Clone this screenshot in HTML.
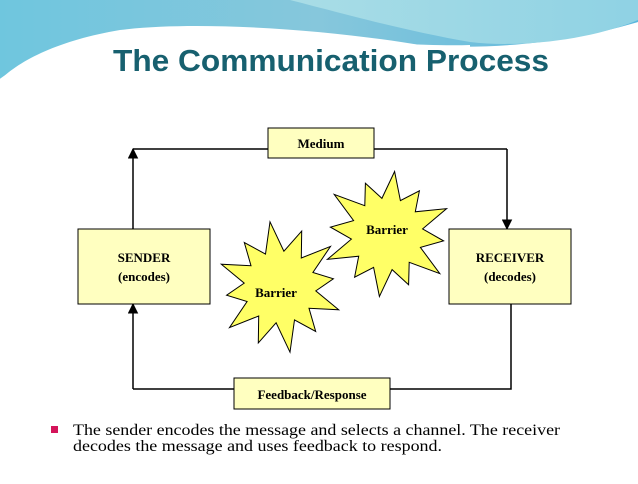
<!DOCTYPE html>
<html><head><meta charset="utf-8"><style>
body{margin:0;width:638px;height:479px;overflow:hidden;background:#fff;font-family:"Liberation Serif",serif}
</style></head><body>
<svg width="638" height="479" viewBox="0 0 638 479" xmlns="http://www.w3.org/2000/svg">
<defs>
<linearGradient id="g1" x1="0" y1="0" x2="1" y2="0"><stop offset="0" stop-color="#6fc6de"/><stop offset="0.5" stop-color="#86c7dc"/><stop offset="1" stop-color="#5ab7dd"/></linearGradient>
<linearGradient id="g2" x1="0" y1="0" x2="1" y2="0"><stop offset="0" stop-color="#a9dde6"/><stop offset="1" stop-color="#8fd2e4"/></linearGradient>
<marker id="ah" viewBox="0 0 10 10" refX="9" refY="5" markerWidth="7" markerHeight="7" orient="auto"><path d="M0,0 L10,5 L0,10 z" fill="#000"/></marker>
</defs>
<path d="M0,0 H638 V22 C560,45 480,50 420,45 C330,30 200,20 120,30 C60,40 20,60 0,80 Z" fill="url(#g1)"/>
<path d="M290,0 H638 V20 C590,40 520,48 470,42 C400,30 330,10 290,0 Z" fill="url(#g2)"/>
<path d="M0,80 C40,50 120,38 250,38 C350,40 420,48 470,46" fill="none" stroke="#fff" stroke-width="2"/>
<text x="113" y="71" textLength="436" lengthAdjust="spacingAndGlyphs" font-family="Liberation Sans,sans-serif" font-weight="bold" font-size="31" fill="#17606f">The Communication Process</text>
<g stroke="#000" stroke-width="1.5" fill="none">
<path d="M133,229 V149" marker-end="url(#ah)"/>
<path d="M133,149 H268 M374,149 H507"/>
<path d="M507,149 V229" marker-end="url(#ah)"/>
<path d="M511,304 V389 H390 M234,389 H133"/>
<path d="M133,389 V304" marker-end="url(#ah)"/>
</g>
<g fill="#ffffc0" stroke="#000" stroke-width="1">
<rect x="268" y="128" width="106" height="30"/>
<rect x="78" y="229" width="132" height="75"/>
<rect x="449" y="229" width="122" height="75"/>
<rect x="234" y="378" width="156" height="31"/>
</g>
<polygon id="s1" fill="#ffff66" stroke="#000" stroke-width="1"/>
<polygon id="s2" fill="#ffff66" stroke="#000" stroke-width="1"/>
<g font-size="13" font-weight="bold" text-anchor="middle" fill="#000">
<text x="321" y="148">Medium</text>
<text x="144" y="262">SENDER</text>
<text x="144" y="281">(encodes)</text>
<text x="510" y="262">RECEIVER</text>
<text x="510" y="281">(decodes)</text>
<text x="312" y="399">Feedback/Response</text>
<text x="387" y="234">Barrier</text>
<text x="276" y="297">Barrier</text>
</g>
<rect x="51" y="426" width="7" height="7" fill="#d4145a"/>
<text x="73" y="435" font-size="16" textLength="487" lengthAdjust="spacingAndGlyphs">The sender encodes the message and selects a channel. The receiver</text>
<text x="73" y="451" font-size="16" textLength="369" lengthAdjust="spacingAndGlyphs">decodes the message and uses feedback to respond.</text>
</svg>
<script>
function star(id,cx,cy,ro,ri,n,rot,jit){var p=[];for(var i=0;i<2*n;i++){var a=rot+i*Math.PI/n;var r=i%2?ri:ro*(1+jit[i%jit.length]);p.push((cx+r*Math.cos(a)).toFixed(1)+","+(cy+r*Math.sin(a)).toFixed(1));}document.getElementById(id).setAttribute("points",p.join(" "));}
star("s1",387,234,60,36,12,-1.45,[0.05,0,-0.1,0,0.08,0,-0.05,0,0.1,0,-0.08,0]);
star("s2",280,287,60,36,12,-1.2,[0,0,0.08,0,-0.1,0,0.05,0,-0.05,0,0.1,0]);
</script>
</body></html>
